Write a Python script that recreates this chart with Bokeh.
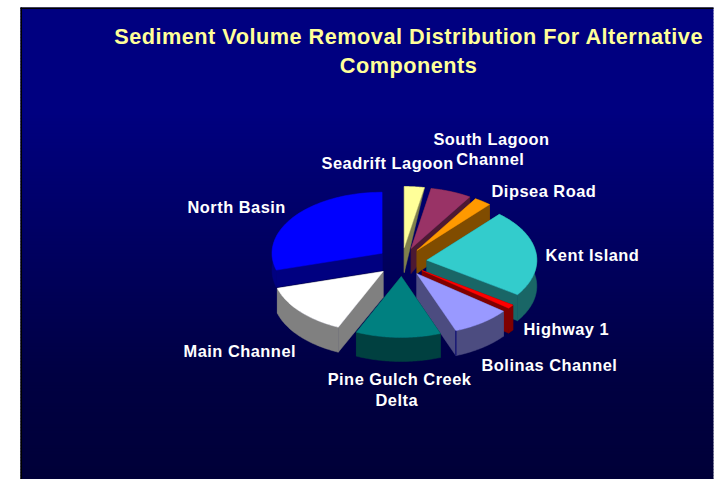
import numpy as np
from bokeh.plotting import figure
from bokeh.models import Range1d, ColumnDataSource
from bokeh.core.properties import value
from bokeh.embed import file_html
from bokeh.resources import INLINE

# ---- data (clockwise from 12 o'clock) ----
slices = ["Seadrift Lagoon", "South Lagoon Channel", "Dipsea Road", "Kent Island", "Highway 1",
          "Bolinas Channel", "Pine Gulch Creek Delta", "Main Channel", "North Basin"]
shares = [2.9, 6.0, 2.5, 23.0, 1.0, 8.6, 12.4, 13.8, 29.3]
top_colors = ["#FFFF99", "#993366", "#FF9900", "#33CCCC", "#FF0000", "#9999FF", "#008080", "#FFFFFF", "#0000FF"]
side_colors = ["#80804C", "#4C1933", "#804C00", "#196666", "#800000", "#4C4C80", "#004040", "#808080", "#000080"]
title_lines = ["Sediment Volume Removal Distribution For Alternative", "Components"]
label_texts = ["Seadrift Lagoon", "South Lagoon\nChannel", "Dipsea Road", "Kent Island", "Highway 1",
               "Bolinas Channel", "Pine Gulch Creek\nDelta", "Main Channel", "North Basin"]

# ---- layout ----
CX, CY = 401.5, 261.5
RX, RY = 110, 61
EX, EY = 25, 14.5
# per-slice extrusion depth (at apex, at outer rim)
depths = [(25, 1), (25, 8), (23, 18), (26, 26), (25, 25), (25, 25), (24, 24), (26, 25), (17, 17)]
draw_order = [8, 0, 1, 2, 3, 7, 4, 5, 6]
label_x = [321, 488, 491, 545, 523, 481, 395, 183, 187]
label_y = [162, 148.5, 190, 254, 328, 364, 389, 350, 206]
label_anchor = ["left", "center", "left", "left", "left", "left", "center", "left", "left"]
title_x = [395.5, 405.5]
title_y = [36, 65]

p = figure(width=715, height=479, output_backend="svg", toolbar_location=None,
           x_range=Range1d(0, 715), y_range=Range1d(479, 0), min_border=0,
           outline_line_color=None, border_fill_color="white", background_fill_color="white",
           styles={"letter-spacing": "0.5px"})
p.axis.visible = False
p.grid.visible = False

# panel gradient
ys = np.arange(7, 480, 3)
blue = np.interp(ys, [110, 375, 479], [128, 66, 56])
grad = ["#%02x%02x%02x" % (0, 0, int(round(b))) for b in blue]
p.quad(left=20, right=713, top=ys, bottom=ys + 3.5, fill_color=grad, line_color=None)
p.quad(left=20, right=21.5, top=7, bottom=479, fill_color="black", line_color=None)
p.quad(left=20, right=713, top=7, bottom=8.5, fill_color="black", line_color=None)

# pie
total = sum(shares)
edges = np.concatenate([[0], np.cumsum(shares)]) / total * 2 * np.pi


def rim(ax, ay, a):
    return ax + RX * np.sin(a), ay - RY * np.cos(a)


for i in draw_order:
    a0, a1 = edges[i], edges[i + 1]
    mid = (a0 + a1) / 2
    ax, ay = CX + EX * np.sin(mid), CY - EY * np.cos(mid)
    th = np.linspace(a0, a1, 60)
    ox, oy = rim(ax, ay, th)
    d_in, d_out = depths[i]
    # extruded faces: two cut faces and outer rim
    faces_x, faces_y = [], []
    for k in (0, -1):
        faces_x.append([ax, ox[k], ox[k], ax])
        faces_y.append([ay, oy[k], oy[k] + d_out, ay + d_in])
    faces_x.append(list(ox) + list(ox[::-1]))
    faces_y.append(list(oy) + list(oy[::-1] + d_out))
    p.patches(faces_x, faces_y, fill_color=side_colors[i], line_color=side_colors[i], line_width=0.5)
    p.patch(list(ox) + [ax], list(oy) + [ay], fill_color=top_colors[i], line_color=top_colors[i], line_width=0.5)
    if slices[i] == "Bolinas Channel":
        p.line([ox[-1], ox[-1]], [oy[-1], oy[-1] + d_out], line_color="#000070", line_width=1)

# texts
p.text(x=title_x, y=title_y, text=title_lines, text_font=value("Liberation Sans"), text_font_style="bold",
       text_font_size="21.7px", text_color="#FFFF99", text_align="center", text_baseline="middle")
src = ColumnDataSource(dict(x=label_x, y=label_y, t=label_texts, a=label_anchor))
p.text(x="x", y="y", text="t", source=src, text_font=value("Liberation Sans"), text_font_style="bold",
       text_font_size="16.4px", text_color="white", text_align="a", text_baseline="middle",
       text_line_height=1.14)

open("out.html", "w").write(file_html(p, INLINE))
